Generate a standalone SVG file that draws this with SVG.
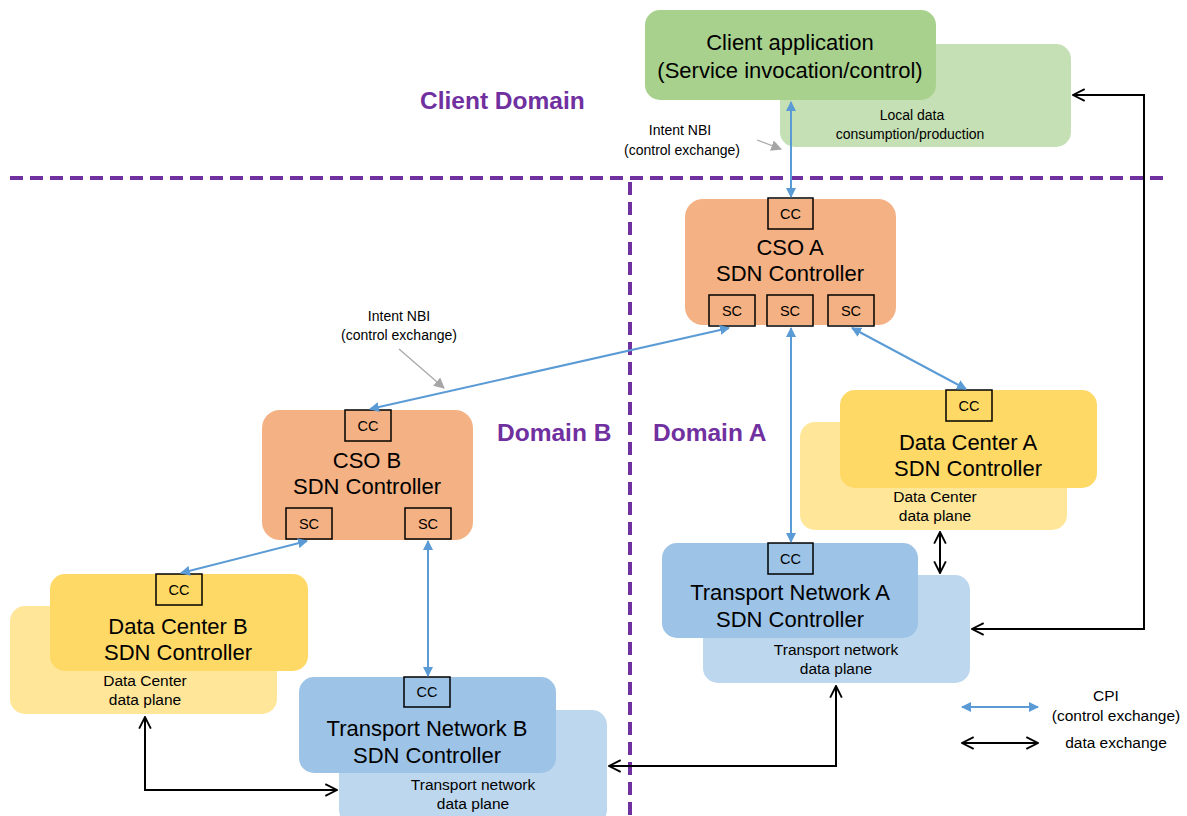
<svg xmlns="http://www.w3.org/2000/svg" width="1187" height="816" viewBox="0 0 1187 816">
<defs>
<marker id="bh" viewBox="0 0 10 10" refX="9" refY="5" markerWidth="5" markerHeight="5" orient="auto-start-reverse" markerUnits="strokeWidth"><path d="M0,0 L10,5 L0,10 z" fill="#5b9bd5"/></marker>
<marker id="kh" viewBox="0 0 12 12" refX="11" refY="6" markerWidth="7" markerHeight="7" orient="auto-start-reverse" markerUnits="strokeWidth"><path d="M1,1 L11,6 L1,11" fill="none" stroke="#000" stroke-width="1.6"/></marker>
<marker id="gh" viewBox="0 0 10 10" refX="9" refY="5" markerWidth="9" markerHeight="9" orient="auto" markerUnits="strokeWidth"><path d="M0,0 L10,5 L0,10 z" fill="#a6a6a6"/></marker>
</defs>
<style>
text{font-family:"Liberation Sans",Arial,sans-serif;fill:#000;text-anchor:middle}
.t{font-size:22px}
.s{font-size:14px}
.p{font-size:15.5px}
.b{font-size:14.5px}
.dom{font-size:24.5px;font-weight:bold;fill:#7030a0;text-anchor:start}
.box{fill:none;stroke:#000;stroke-width:1.5}
.cpi{stroke:#5b9bd5;stroke-width:2;fill:none;marker-start:url(#bh);marker-end:url(#bh)}
.dat{stroke:#000;stroke-width:2;fill:none;marker-start:url(#kh);marker-end:url(#kh)}
.dash{stroke:#7030a0;stroke-width:4;stroke-dasharray:13 7;fill:none}
.ga{stroke:#a6a6a6;stroke-width:1.2;marker-end:url(#gh)}
</style>
<rect width="1187" height="816" fill="#fff"/>
<g id="domains">
<path class="dash" d="M10,178 H1166"/>
<path class="dash" d="M630,182 V816"/>
<text class="dom" x="420" y="109">Client Domain</text>
<text class="dom" x="497" y="441">Domain B</text>
<text class="dom" x="653" y="441">Domain A</text>
</g>
<g id="client">
<rect x="780" y="44" width="291" height="103" rx="15" fill="#c5e0b4"/>
<text class="s" x="912" y="120">Local data</text>
<text class="s" x="910" y="139">consumption/production</text>
<rect x="645" y="10" width="291" height="90" rx="15" fill="#a9d18e"/>
<text class="t" x="790" y="50">Client application</text>
<text class="t" x="790" y="78">(Service invocation/control)</text>
</g>
<g id="cso-a">
<rect x="685" y="199" width="211" height="126" rx="18" fill="#f4b183"/>
<rect class="box" x="768" y="198" width="45" height="31"/>
<text class="b" x="790.5" y="219">CC</text>
<text class="t" x="790" y="255">CSO A</text>
<text class="t" x="790" y="281">SDN Controller</text>
<rect class="box" x="709" y="295" width="46" height="31"/>
<text class="b" x="732" y="316">SC</text>
<rect class="box" x="767" y="295" width="46" height="31"/>
<text class="b" x="790" y="316">SC</text>
<rect class="box" x="828" y="295" width="46" height="31"/>
<text class="b" x="851" y="316">SC</text>
</g>
<g id="cso-b">
<rect x="262" y="410" width="211" height="130" rx="18" fill="#f4b183"/>
<rect class="box" x="345" y="410" width="46" height="31"/>
<text class="b" x="368" y="431">CC</text>
<text class="t" x="367" y="468">CSO B</text>
<text class="t" x="367" y="494">SDN Controller</text>
<rect class="box" x="286" y="508" width="46" height="31"/>
<text class="b" x="309" y="529">SC</text>
<rect class="box" x="405" y="508" width="46" height="31"/>
<text class="b" x="428" y="529">SC</text>
</g>
<g id="dc-a">
<rect x="800" y="422" width="267" height="108" rx="15" fill="#ffe699"/>
<text class="p" x="935" y="502">Data Center</text>
<text class="p" x="935" y="521">data plane</text>
<rect x="840" y="390" width="257" height="98" rx="15" fill="#ffd966"/>
<rect class="box" x="946" y="390" width="46" height="31"/>
<text class="b" x="969" y="411">CC</text>
<text class="t" x="968" y="450">Data Center A</text>
<text class="t" x="968" y="476">SDN Controller</text>
</g>
<g id="tn-a">
<rect x="703" y="575" width="267" height="108" rx="15" fill="#bdd7ee"/>
<text class="p" x="836" y="655">Transport network</text>
<text class="p" x="836" y="674">data plane</text>
<rect x="662" y="543" width="256" height="95" rx="15" fill="#9dc3e6"/>
<rect class="box" x="768" y="543" width="45" height="31"/>
<text class="b" x="790.5" y="564">CC</text>
<text class="t" x="790" y="600">Transport Network A</text>
<text class="t" x="790" y="627">SDN Controller</text>
</g>
<g id="dc-b">
<rect x="10" y="606" width="267" height="108" rx="15" fill="#ffe699"/>
<text class="p" x="145" y="686">Data Center</text>
<text class="p" x="145" y="705">data plane</text>
<rect x="50" y="574" width="258" height="97" rx="15" fill="#ffd966"/>
<rect class="box" x="156" y="574" width="46" height="31"/>
<text class="b" x="179" y="595">CC</text>
<text class="t" x="178" y="634">Data Center B</text>
<text class="t" x="178" y="660">SDN Controller</text>
</g>
<g id="tn-b">
<rect x="339" y="710" width="268" height="115" rx="15" fill="#bdd7ee"/>
<text class="p" x="473" y="790">Transport network</text>
<text class="p" x="473" y="809">data plane</text>
<rect x="299" y="677" width="257" height="96" rx="15" fill="#9dc3e6"/>
<rect class="box" x="404" y="677" width="46" height="30"/>
<text class="b" x="427" y="697">CC</text>
<text class="t" x="427" y="736">Transport Network B</text>
<text class="t" x="427" y="763">SDN Controller</text>
</g>
<g id="connectors">
<line class="cpi" x1="791" y1="102" x2="791" y2="197"/>
<line class="cpi" x1="729" y1="328" x2="370" y2="409"/>
<line class="cpi" x1="791" y1="328" x2="791" y2="542"/>
<line class="cpi" x1="852" y1="328" x2="966" y2="389"/>
<line class="cpi" x1="307" y1="541" x2="181" y2="573"/>
<line class="cpi" x1="428" y1="541" x2="428" y2="676"/>
<path class="dat" d="M1073,95 H1144 V629 H972"/>
<line class="dat" x1="940" y1="532" x2="940" y2="573"/>
<path class="dat" d="M145,717 V790 H337"/>
<path class="dat" d="M609,766 H836 V686"/>
<line class="ga" x1="757" y1="140" x2="781" y2="149"/>
<line class="ga" x1="399" y1="349" x2="444" y2="388"/>
<text class="s" x="680" y="135">Intent NBI</text>
<text class="s" x="682" y="155">(control exchange)</text>
<text class="s" x="399" y="321">Intent NBI</text>
<text class="s" x="399" y="340">(control exchange)</text>
</g>
<g id="legend">
<line class="cpi" x1="962" y1="707" x2="1038" y2="707"/>
<line class="dat" x1="962" y1="743" x2="1038" y2="743"/>
<text class="p" x="1106" y="701">CPI</text>
<text class="p" x="1116" y="721">(control exchange)</text>
<text class="p" x="1116" y="748">data exchange</text>
</g>
</svg>
